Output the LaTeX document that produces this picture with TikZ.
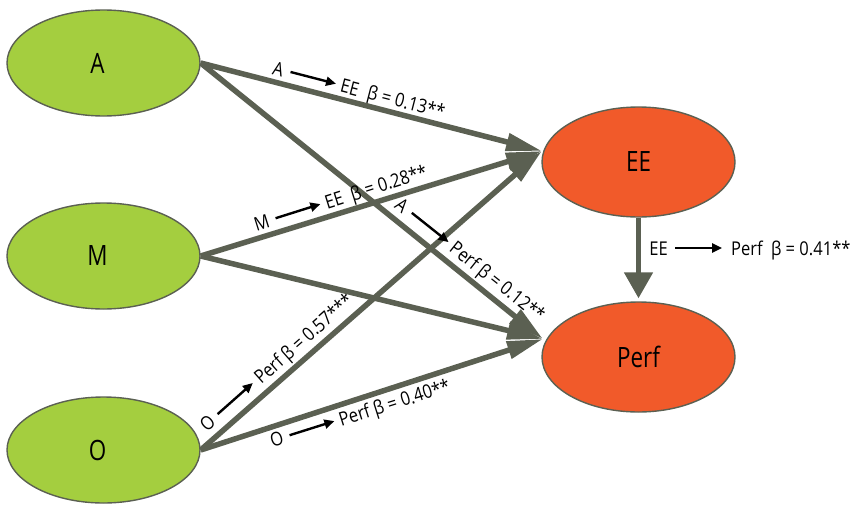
\documentclass[tikz,border=0pt]{standalone}
\usepackage{fontspec}
\setmainfont{Open Sans}
\newfontfamily\nodefont{Open Sans}[FakeStretch=0.8]
\newfontfamily\labfont{Open Sans}[FakeStretch=0.87]
\usetikzlibrary{shapes.geometric, arrows.meta, backgrounds}

\definecolor{leaf}{HTML}{A4CE3F}
\definecolor{ember}{HTML}{F15A2A}
\definecolor{slate}{HTML}{5B6052}

\tikzset{
  construct/.style={ellipse, draw=slate, line width=1.4pt, minimum width=193pt,
    minimum height=106pt, inner sep=0pt, font=\nodefont\fontsize{28}{30}\selectfont},
  exo/.style={construct, fill=leaf},
  endo/.style={construct, fill=ember, minimum height=110pt},
  effect/.style={draw=slate, line width=5.5pt, -{Triangle[length=36pt,width=17pt]}},
  mediate/.style={draw=slate, line width=5pt, -{Triangle[length=26pt,width=28pt]}},
  lbl/.style={inner sep=0pt, font=\labfont\fontsize{19}{22}\selectfont},
  blk/.style={draw=black, line width=2.4pt, -{Triangle[length=10pt,width=9pt]}},
}

% the predictor names sit a little left of the ellipse centre
\newcommand\lefttext[1]{#1\kern12pt}

% path label: "from" text, short black arrow, "to" text with the coefficient
\newcommand\edgelabel[6]{%
  \begin{scope}[shift={(#2,#3)}, rotate=#4, transform shape]
    \node[lbl, anchor=base east] (#1from) at (0,0) {#5};
    \coordinate (#1tail) at (7,-7);
    \coordinate (#1head) at (54,-7);
    \node[lbl, anchor=base west] (#1to) at (59,0) {#6};
    \draw[blk] (#1tail) -- (#1head);
  \end{scope}}

\begin{document}
\begin{tikzpicture}[x=1pt, y=-1pt]
  \useasboundingbox (0,0) rectangle (864,506);

  % constructs
  \node[exo] (A) at (103.5,63) {\lefttext{A}};
  \node[exo] (M) at (103.5,256) {\lefttext{M}};
  \node[exo] (O) at (103.5,450) {\lefttext{O}};
  \node[endo] (EE) at (638.5,162) {EE};
  \node[endo] (Perf) at (638.5,357) {Perf};

  % arrow tips meet here
  \coordinate (EEin) at (542,151);
  \coordinate (Perfin) at (543,339);

  \begin{scope}[on background layer]
    \draw[effect] (A.east) -- (EEin);
    \draw[effect] (A.east) -- (Perfin);
    \draw[effect] (M.east) -- (EEin);
    \draw[effect] (M.east) -- (Perfin);
    \draw[effect] (O.east) -- (EEin);
    \draw[effect] (O.east) -- (Perfin);
  \end{scope}
  \draw[mediate, shorten >=3pt] (EE) -- (Perf);

  % coefficients
  \edgelabel{ae}{282}{77}{-14.5}{A}{EE\hspace{5pt} β = 0.13**}
  \edgelabel{me}{271}{227}{17.5}{M}{EE\hspace{4pt} β = 0.28**}
  \edgelabel{ap}{402}{214}{-38.5}{A}{Perf β = 0.12**}
  \edgelabel{oe}{217}{424}{41.5}{O}{Perf β = 0.57***}
  \edgelabel{op}{285}{444}{17.5}{O}{Perf β = 0.40**}
  \edgelabel{ep}{668}{255}{0}{EE}{\hspace{4pt}Perf\hspace{4pt} β = 0.41**}
\end{tikzpicture}
\end{document}
